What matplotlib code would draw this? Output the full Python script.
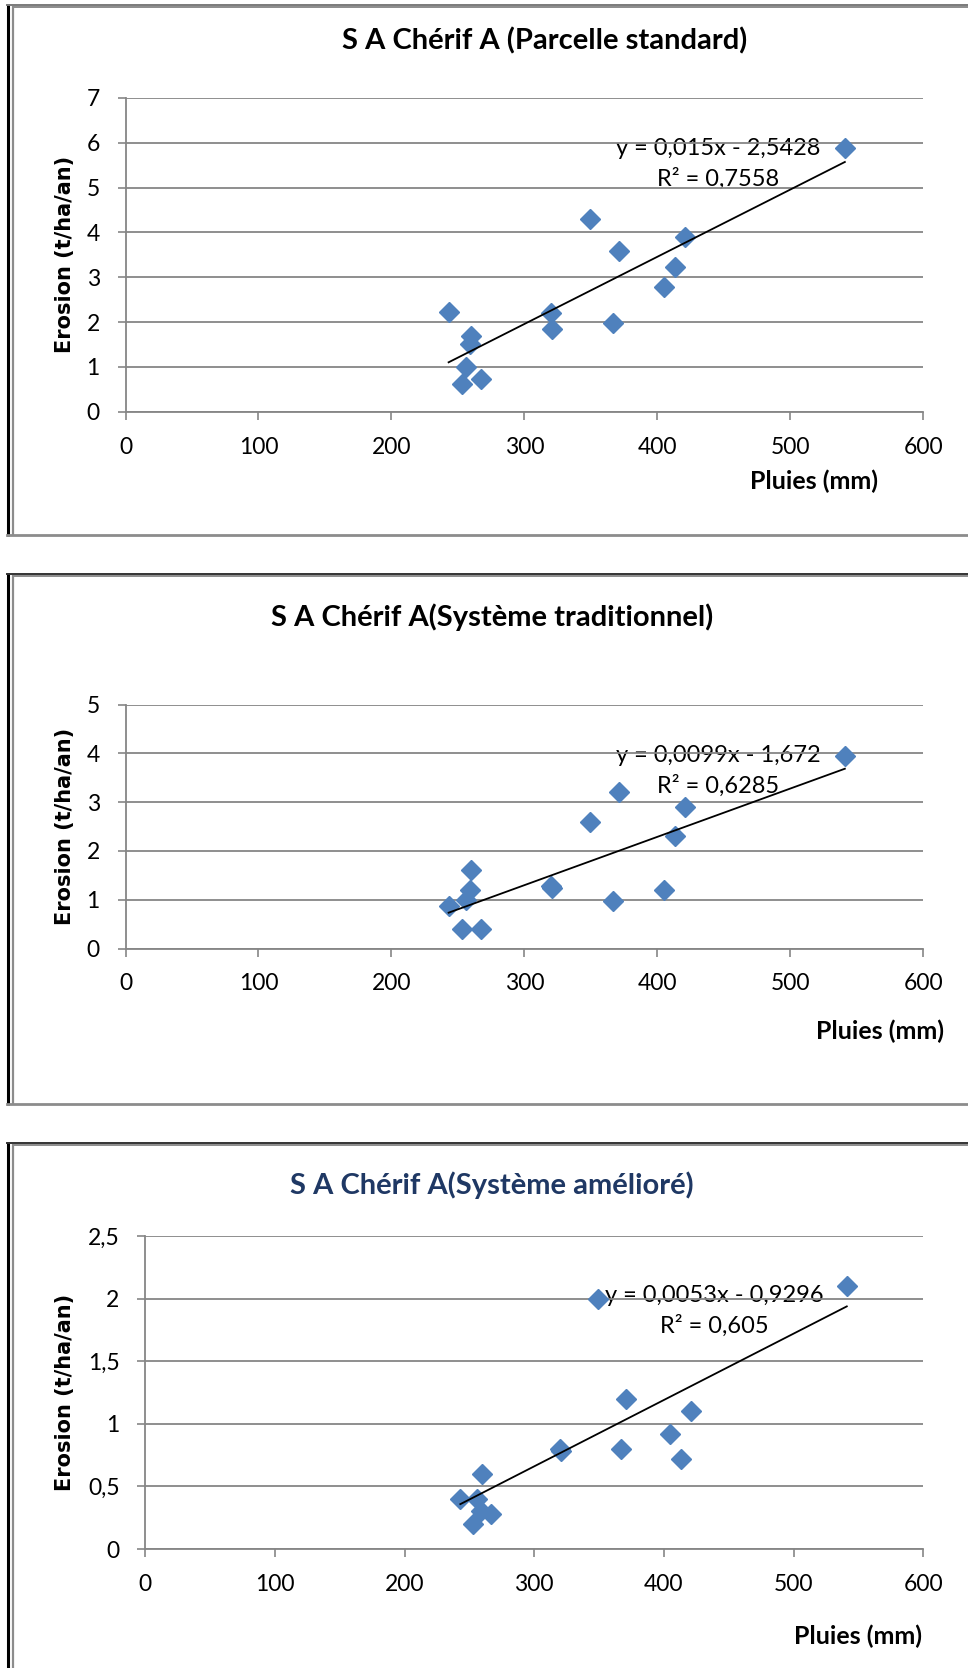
import numpy as np
import matplotlib
matplotlib.use("Agg")
import matplotlib.pyplot as plt

plt.rcParams['font.family'] = ['Lato', 'DejaVu Sans']

# rainfall (mm), same years for the three plots
pluies = [243, 253, 256, 259, 260, 267, 320, 321, 349, 367, 371, 405, 413, 421, 541]

# erosion (t/ha/an)
ero_standard = [2.22, 0.61, 1.00, 1.50, 1.69, 0.74, 2.21, 1.84, 4.30, 1.99, 3.59, 2.79, 3.23, 3.90, 5.89]
ero_trad = [0.88, 0.40, 1.00, 1.20, 1.60, 0.40, 1.28, 1.25, 2.60, 0.97, 3.20, 1.20, 2.30, 2.90, 3.95]
ero_amel = [0.40, 0.20, 0.40, 0.30, 0.60, 0.28, 0.80, 0.78, 2.00, 0.80, 1.20, 0.92, 0.72, 1.10, 2.10]

titles = ["S A Chérif A (Parcelle standard)",
          "S A Chérif A(Système traditionnel)",
          "S A Chérif A(Système amélioré)"]
slopes = [0.015, 0.0099, 0.0053]
intercepts = [-2.5428, -1.672, -0.9296]
eq_txt = ["y = 0,015x - 2,5428\nR² = 0,7558",
          "y = 0,0099x - 1,672\nR² = 0,6285",
          "y = 0,0053x - 0,9296\nR² = 0,605"]
x_ticks = [0, 100, 200, 300, 400, 500, 600]
y_ticks = [[0, 1, 2, 3, 4, 5, 6, 7],
           [0, 1, 2, 3, 4, 5],
           [0, 0.5, 1, 1.5, 2, 2.5]]
y_ticklabels = [["0", "1", "2", "3", "4", "5", "6", "7"],
                ["0", "1", "2", "3", "4", "5"],
                ["0", "0,5", "1", "1,5", "2", "2,5"]]

W, H = 968, 1668
fig = plt.figure(figsize=(W / 100, H / 100), dpi=100)

# background axes in pixel coords for the chart frames and free text
bg = fig.add_axes([0, 0, 1, 1], zorder=0)
bg.set_xlim(0, W)
bg.set_ylim(H, 0)
bg.axis('off')

frames = [(5, 535), (574, 1104), (1143, H + 5)]
for top, bot in frames:
    bg.plot([8, 8], [top - 1, bot + 1], color='black', lw=2.2, solid_capstyle='butt')
    bg.plot([13, 13], [top + 1, bot], color='#8c8c8c', lw=1.6, solid_capstyle='butt')
    bg.plot([7, W], [top, top], color='#333333' if top > 10 else '#7a7a7a', lw=1.4)
    bg.plot([13, W], [top + 2, top + 2], color='#8c8c8c', lw=1.4)
    if bot < H:
        bg.plot([7, W], [bot, bot], color='#8c8c8c', lw=2.0)

# plot areas (left, top, right, bottom) in pixels
boxes = [(125.5, 98, 923.3, 411.7),
         (125.5, 704.5, 923.3, 948.5),
         (145.2, 1236, 923.3, 1549)]
series = [ero_standard, ero_trad, ero_amel]
title_pos = [(545, 41), (492, 617), (492, 1185)]
title_col = ['black', 'black', '#1f3864']
eq_pos = [(718, 164), (718, 771), (714, 1311)]
xlab_pos = [(814, 481), (880, 1031), (858, 1636)]

for i in range(3):
    l, t, r, b = boxes[i]
    ax = fig.add_axes([l / W, 1 - b / H, (r - l) / W, (b - t) / H], zorder=2)
    ax.patch.set_alpha(0)
    ax.plot(pluies, series[i], linestyle='none', marker='D', ms=10.5,
            color='#4f81bd', clip_on=False, zorder=3)
    xs = np.array([min(pluies), max(pluies)])
    ax.plot(xs, slopes[i] * xs + intercepts[i], color='black', lw=1.3, zorder=4)

    ax.set_xlim(0, 600)
    ax.set_ylim(y_ticks[i][0], y_ticks[i][-1])
    ax.set_xticks(x_ticks)
    ax.set_xticklabels([str(v) for v in x_ticks])
    ax.set_yticks(y_ticks[i])
    ax.set_yticklabels(y_ticklabels[i])
    ax.yaxis.grid(True, color='#868686', lw=1.3)
    ax.set_axisbelow(True)
    for s in ['top', 'right']:
        ax.spines[s].set_visible(False)
    for s in ['left', 'bottom']:
        ax.spines[s].set_color('#868686')
        ax.spines[s].set_linewidth(1.3)
    ax.tick_params(axis='both', direction='out', length=5.5, width=1.2,
                   color='#868686', labelsize=16.5, labelcolor='black')
    ax.tick_params(axis='y', pad=13)
    ax.tick_params(axis='x', pad=12.5)

    tx, ty = title_pos[i]
    bg.text(tx, ty, titles[i], fontsize=21, fontweight='bold',
            color=title_col[i], ha='center', va='center')
    ex, ey = eq_pos[i]
    bg.text(ex, ey, eq_txt[i], fontsize=17, ha='center', va='center',
            linespacing=1.5)
    lx, ly = xlab_pos[i]
    bg.text(lx, ly, "Pluies (mm)", fontsize=18, fontweight='bold',
            ha='center', va='center')
    bg.text(65, (t + b) / 2, "Erosion (t/ha/an)", fontsize=15,
            fontweight='bold', family='DejaVu Sans', rotation=90,
            ha='center', va='center')

fig.savefig("out.png", dpi=100)
